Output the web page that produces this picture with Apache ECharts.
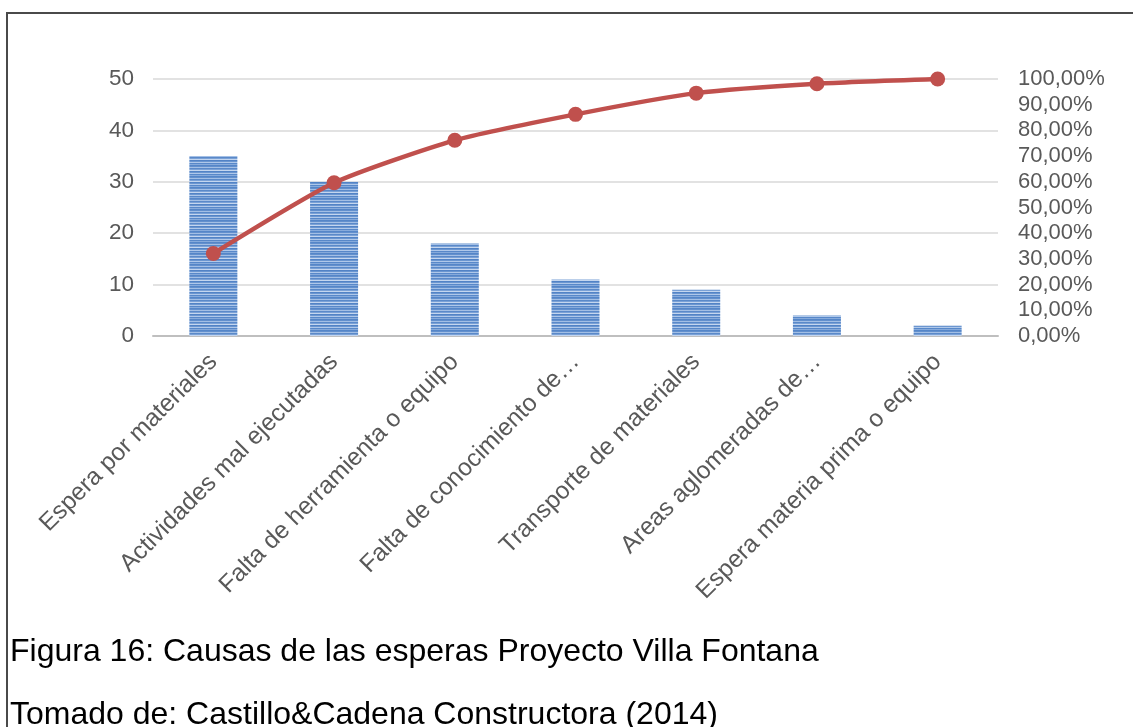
<!DOCTYPE html>
<html>
<head>
<meta charset="utf-8">
<title>Causas de las esperas Proyecto Villa Fontana</title>
<script src="https://cdn.jsdelivr.net/npm/echarts@6/dist/echarts.min.js"></script>
<style>
  html, body { margin: 0; padding: 0; background: #ffffff; }
  #chart { width: 1133px; height: 727px; }
</style>
</head>
<body>
<div id="chart"></div>
<script>
// Causes of waiting time (Pareto)
const categories = [
  'Espera por materiales',
  'Actividades mal ejecutadas',
  'Falta de herramienta o equipo',
  'Falta de conocimiento de…',
  'Transporte de materiales',
  'Areas aglomeradas de…',
  'Espera materia prima o equipo'
];
const frequency = [35, 30, 18, 11, 9, 4, 2];
const cumulativePct = [32.11, 59.63, 76.15, 86.24, 94.50, 98.17, 100.00];
const leftTicks = { min: 0, max: 50, interval: 10 };
const rightTicks = { min: 0, max: 100, interval: 10 };
const captionLines = [
  'Figura 16: Causas de las esperas Proyecto Villa Fontana',
  'Tomado de: Castillo&Cadena Constructora (2014)'
];

// Striped blue fill for the bars
function stripePattern() {
  const shades = ['#5586c8', '#6390cd', '#a3bfe5', '#5a89c9', '#7aa1d6', '#c4d6ef', '#5283c6', '#6b96d0', '#afc8ea', '#5888c9', '#86aadb'];
  const c = document.createElement('canvas');
  c.width = 8; c.height = shades.length;
  const ctx = c.getContext('2d');
  shades.forEach((s, i) => { ctx.fillStyle = s; ctx.fillRect(0, i, 8, 1); });
  return c;
}

const FONT = '"Liberation Sans", Arial, sans-serif';
const chart = echarts.init(document.getElementById('chart'), null, { renderer: 'canvas' });

chart.setOption({
  animation: false,
  backgroundColor: '#ffffff',
  grid: { left: 153, right: 135, top: 79, bottom: 391, containLabel: false },
  xAxis: {
    type: 'category',
    data: categories,
    axisLine: { show: true, lineStyle: { color: '#bfbfbf', width: 2 } },
    axisTick: { show: false },
    axisLabel: {
      rotate: 45,
      interval: 0,
      margin: 22,
      color: '#595959',
      fontSize: 24.5,
      fontFamily: FONT
    }
  },
  yAxis: [
    {
      type: 'value',
      min: leftTicks.min, max: leftTicks.max, interval: leftTicks.interval,
      axisLine: { show: false },
      axisTick: { show: false },
      splitLine: { lineStyle: { color: '#d9d9d9', width: 1.5 } },
      axisLabel: { color: '#595959', fontSize: 22.5, fontFamily: FONT, margin: 19 }
    },
    {
      type: 'value',
      min: rightTicks.min, max: rightTicks.max, interval: rightTicks.interval,
      axisLine: { show: false },
      axisTick: { show: false },
      splitLine: { show: false },
      axisLabel: {
        color: '#595959', fontSize: 22, fontFamily: FONT, margin: 20,
        formatter: v => v.toFixed(2).replace('.', ',') + '%'
      }
    }
  ],
  series: [
    {
      type: 'bar',
      data: frequency,
      barWidth: 48,
      itemStyle: { color: { image: stripePattern(), repeat: 'repeat' } }
    },
    {
      type: 'line',
      yAxisIndex: 1,
      data: cumulativePct,
      smooth: 0.2,
      symbol: 'circle',
      symbolSize: 15,
      lineStyle: { color: '#c0504d', width: 4.5 },
      itemStyle: { color: '#c0504d' }
    }
  ],
  graphic: [
    { type: 'line', shape: { x1: 7, y1: 13, x2: 1133, y2: 13 }, style: { stroke: '#4a4a4a', lineWidth: 2 } },
    { type: 'line', shape: { x1: 7, y1: 12, x2: 7, y2: 727 }, style: { stroke: '#4a4a4a', lineWidth: 2 } },
    { type: 'text', left: 10, top: 636, style: { text: captionLines[0], fill: '#000000', font: '32px ' + FONT } },
    { type: 'text', left: 10, top: 699, style: { text: captionLines[1], fill: '#000000', font: '32px ' + FONT } }
  ]
});
</script>
</body>
</html>
